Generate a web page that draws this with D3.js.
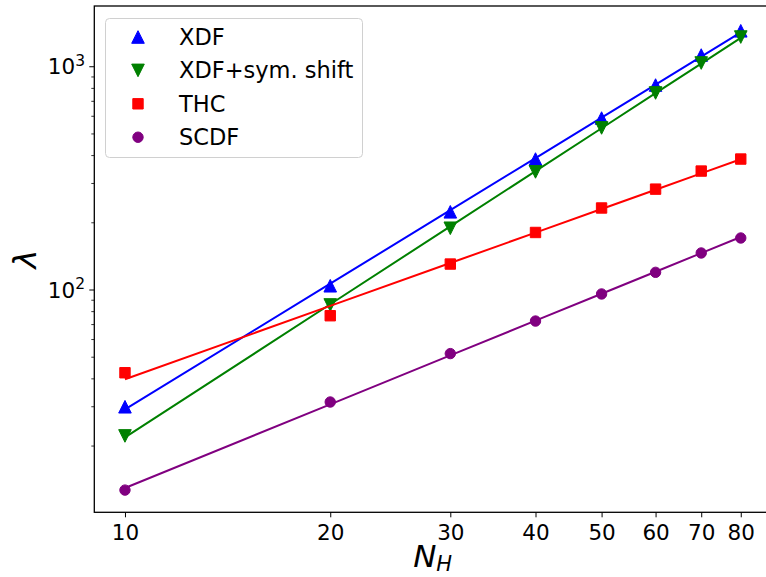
<!DOCTYPE html>
<html>
  <head>
    <meta charset="utf-8">
    <title>lambda vs N_H</title>
    <style>
      body {
        margin: 0;
        background-color: white;
      }
      svg {
        display: block;
        font-family: "DejaVu Sans", sans-serif;
      }
    </style>
  </head>
  <body>
    <div id="chart"></div>

    <script src="https://d3js.org/d3.v7.min.js"></script>
    <script>
    // values
    var nH = [10, 20, 30, 40, 50, 60, 70, 80];
    var xdf = [30.0, 104.5, 224, 386, 589, 828, 1128, 1449];
    var xdfSym = [22.2, 85.7, 189, 338, 532, 763, 1039, 1358];
    var thc = [42.6, 76.7, 130.7, 181, 233, 283, 341, 386];
    var scdf = [12.7, 31.5, 51.9, 72.6, 96, 120, 146.5, 171];

    var seriesNames = ["XDF", "XDF+sym. shift", "THC", "SCDF"];
    var seriesColors = ["blue", "green", "red", "purple"];
    var seriesMarkers = ["up", "down", "square", "circle"];
    var seriesValues = [xdf, xdfSym, thc, scdf];

    var yMajor = [100, 1000];
    var yMinor = [20, 30, 40, 50, 60, 70, 80, 90, 200, 300, 400, 500, 600, 700, 800, 900];

    var width = 766;
    var height = 577;
    var plot = {left: 94.3, right: 771, top: 6, bottom: 512.3};

    var x = d3.scaleLog().domain([9.016, 88.6]).range([plot.left, plot.right]);
    var y = d3.scaleLog().domain([10.1, 1871]).range([plot.bottom, plot.top]);

    var svg = d3.select("#chart").append("svg")
      .attr("width", width)
      .attr("height", height);

    // straight line fit in log-log space
    function fitLine(xs, ys) {
      var lx = xs.map(function(d) { return Math.log10(d); });
      var ly = ys.map(function(d) { return Math.log10(d); });
      var mx = d3.mean(lx), my = d3.mean(ly);
      var sxy = 0, sxx = 0;
      for (var i = 0; i < lx.length; i++) {
        sxy += (lx[i] - mx) * (ly[i] - my);
        sxx += (lx[i] - mx) * (lx[i] - mx);
      }
      var b = sxy / sxx;
      var a = my - b * mx;
      return xs.map(function(d) { return Math.pow(10, a + b * Math.log10(d)); });
    }

    function markerPath(kind, cx, cy) {
      var p = d3.path();
      if (kind == "up") {
        var h = 6.3;
        p.moveTo(cx, cy - h); p.lineTo(cx + h, cy + h); p.lineTo(cx - h, cy + h); p.closePath();
      } else if (kind == "down") {
        var h = 6.3;
        p.moveTo(cx, cy + h); p.lineTo(cx + h, cy - h); p.lineTo(cx - h, cy - h); p.closePath();
      } else if (kind == "square") {
        var s = 5.2;
        p.rect(cx - s, cy - s, 2 * s, 2 * s);
      } else {
        p.moveTo(cx + 5.2, cy);
        p.arc(cx, cy, 5.2, 0, 2 * Math.PI);
      }
      return p.toString();
    }

    // x ticks
    var xAxis = svg.append("g")
      .attr("transform", "translate(0," + plot.bottom + ")")
      .call(d3.axisBottom(x).tickValues(nH).tickFormat(d3.format("d")).tickSize(5).tickPadding(7));
    xAxis.select(".domain").remove();
    xAxis.selectAll("line").attr("stroke", "black").attr("stroke-width", 1);
    xAxis.selectAll("text")
      .attr("font-family", "DejaVu Sans")
      .attr("font-size", 21.5)
      .attr("fill", "black");

    // y ticks
    svg.selectAll(".yminor")
      .data(yMinor)
      .enter()
      .append("line")
      .attr("x1", plot.left - 3)
      .attr("x2", plot.left)
      .attr("y1", function(d) { return y(d); })
      .attr("y2", function(d) { return y(d); })
      .attr("stroke", "black")
      .attr("stroke-width", 0.8);

    svg.selectAll(".ymajor")
      .data(yMajor)
      .enter()
      .append("line")
      .attr("x1", plot.left - 5)
      .attr("x2", plot.left)
      .attr("y1", function(d) { return y(d); })
      .attr("y2", function(d) { return y(d); })
      .attr("stroke", "black")
      .attr("stroke-width", 1);

    var ylab = svg.selectAll(".ylab")
      .data(yMajor)
      .enter()
      .append("text")
      .attr("x", 85)
      .attr("y", function(d) { return y(d) + 7.5; })
      .attr("text-anchor", "end")
      .attr("font-size", 21.5)
      .attr("fill", "black");
    ylab.append("tspan").text("10");
    ylab.append("tspan")
      .attr("dy", -8.5)
      .attr("font-size", 15.5)
      .text(function(d) { return Math.round(Math.log10(d)); });

    // fitted lines and markers
    var line = d3.line()
      .x(function(d) { return x(d[0]); })
      .y(function(d) { return y(d[1]); });

    seriesValues.forEach(function(vals, k) {
      var fitted = fitLine(nH, vals);
      svg.selectAll(".pt" + k)
        .data(d3.zip(nH, vals))
        .enter()
        .append("path")
        .attr("d", function(d) { return markerPath(seriesMarkers[k], x(d[0]), y(d[1])); })
        .attr("fill", seriesColors[k])
        .attr("stroke", seriesColors[k])
        .attr("stroke-width", 1);
      svg.append("path")
        .datum(d3.zip(nH, fitted))
        .attr("d", line)
        .attr("fill", "none")
        .attr("stroke", seriesColors[k])
        .attr("stroke-width", 2);
    });

    // frame
    svg.append("rect")
      .attr("x", plot.left)
      .attr("y", plot.top)
      .attr("width", plot.right - plot.left)
      .attr("height", plot.bottom - plot.top)
      .attr("fill", "none")
      .attr("stroke", "black")
      .attr("stroke-width", 1.3);

    // legend
    var legend = svg.append("g");
    legend.append("rect")
      .attr("x", 105.5)
      .attr("y", 18.5)
      .attr("width", 257)
      .attr("height", 139)
      .attr("rx", 4)
      .attr("fill", "white")
      .attr("fill-opacity", 0.8)
      .attr("stroke", "#d0d0d0")
      .attr("stroke-width", 1);

    var rows = legend.selectAll(".row")
      .data(seriesNames)
      .enter()
      .append("g")
      .attr("transform", function(d, i) { return "translate(0," + (37 + i * 33.4) + ")"; });
    rows.append("path")
      .attr("d", function(d, i) { return markerPath(seriesMarkers[i], 138, 0); })
      .attr("fill", function(d, i) { return seriesColors[i]; })
      .attr("stroke", function(d, i) { return seriesColors[i]; })
      .attr("stroke-width", 1);
    rows.append("text")
      .attr("x", 179)
      .attr("y", 8)
      .attr("font-size", 22.5)
      .attr("fill", "black")
      .text(function(d) { return d; });

    // axis labels
    var xl = svg.append("text")
      .attr("x", (plot.left + plot.right) / 2)
      .attr("y", 567)
      .attr("text-anchor", "middle")
      .attr("font-size", 31)
      .attr("font-style", "italic")
      .attr("fill", "black");
    xl.append("tspan").text("N");
    xl.append("tspan").attr("dy", 4).attr("font-size", 21).text("H");

    svg.append("text")
      .attr("transform", "translate(36," + ((plot.top + plot.bottom) / 2) + ") rotate(-90)")
      .attr("text-anchor", "middle")
      .attr("font-size", 32)
      .attr("font-style", "italic")
      .attr("fill", "black")
      .text("λ");
    </script>
  </body>
</html>
